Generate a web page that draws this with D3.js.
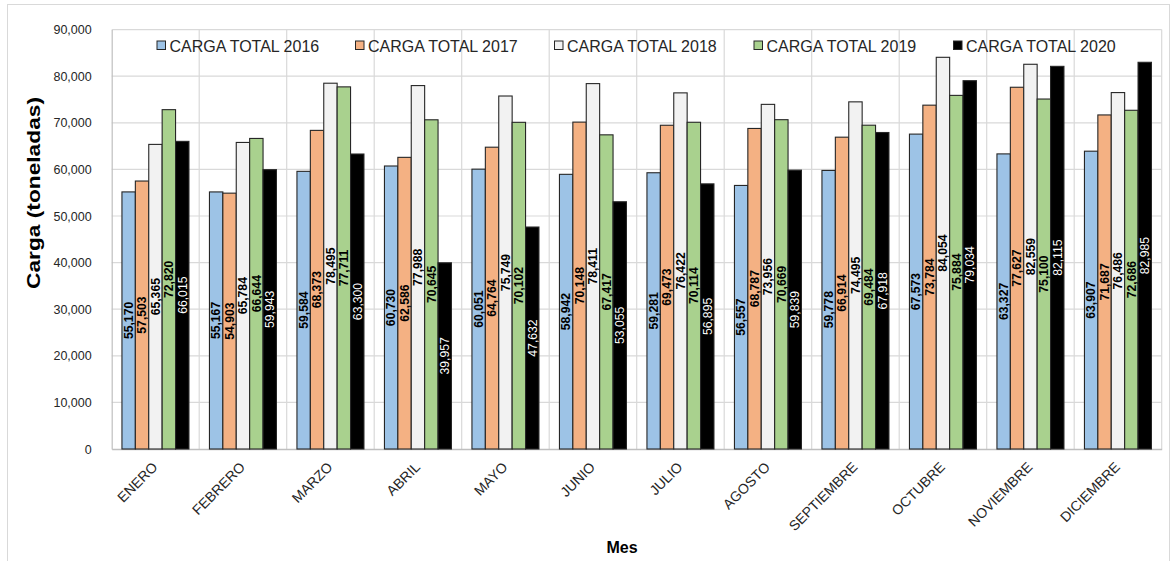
<!DOCTYPE html>
<html>
<head>
<meta charset="utf-8">
<script src="https://cdn.jsdelivr.net/npm/d3@7"></script>
<style>
  html, body { margin: 0; padding: 0; background: #fff; }
  svg { display: block; font-family: "Liberation Sans", Arial, sans-serif; }
</style>
</head>
<body>
<svg id="chart" width="1174" height="561"></svg>
<script>
// Monthly cargo totals (tonnes) by year
const months = ["ENERO", "FEBRERO", "MARZO", "ABRIL", "MAYO", "JUNIO", "JULIO",
                "AGOSTO", "SEPTIEMBRE", "OCTUBRE", "NOVIEMBRE", "DICIEMBRE"];
const seriesNames = ["CARGA TOTAL 2016", "CARGA TOTAL 2017", "CARGA TOTAL 2018",
                     "CARGA TOTAL 2019", "CARGA TOTAL 2020"];
const carga2016 = [55170, 55167, 59584, 60730, 60051, 58942, 59281, 56557, 59778, 67573, 63327, 63907];
const carga2017 = [57503, 54903, 68373, 62586, 64764, 70148, 69473, 68787, 66914, 73784, 77627, 71687];
const carga2018 = [65365, 65784, 78495, 77988, 75749, 78411, 76422, 73956, 74495, 84054, 82559, 76486];
const carga2019 = [72820, 66644, 77711, 70645, 70102, 67417, 70114, 70669, 69484, 75884, 75100, 72686];
const carga2020 = [66015, 59943, 63300, 39957, 47632, 53055, 56895, 59839, 67918, 79034, 82115, 82985];
const yTicks = [0, 10000, 20000, 30000, 40000, 50000, 60000, 70000, 80000, 90000];

const seriesValues = [carga2016, carga2017, carga2018, carga2019, carga2020];
const fills = ["#9dc3e6", "#f4b183", "#f2f2f2", "#a9d18e", "#000000"];
const labelColors = ["#000", "#000", "#000", "#000", "#fff"];
const labelWeights = ["bold", "bold", "bold", "bold", "normal"];

const svg = d3.select("#chart");
const plot = { left: 111.7, right: 1161.7, top: 29.6, bottom: 449 };

// outer chart border
svg.append("rect")
  .attr("x", 7.5).attr("y", 4.5).attr("width", 1162).attr("height", 570)
  .attr("fill", "none").attr("stroke", "#d9d9d9").attr("stroke-width", 1);

const x = d3.scaleBand().domain(months).range([plot.left, plot.right]).padding(0);
const xs = d3.scaleBand().domain(d3.range(seriesNames.length))
  .range([0, x.bandwidth()]).paddingInner(0).paddingOuter(0.765);
const y = d3.scaleLinear().domain([0, 90000]).range([plot.bottom, plot.top]);
const fmt = d3.format(",");

// horizontal gridlines
const grid = svg.append("g");
grid.selectAll("line.h").data(yTicks.filter(d => d > 0)).join("line")
  .attr("x1", plot.left).attr("x2", plot.right)
  .attr("y1", d => y(d)).attr("y2", d => y(d))
  .attr("stroke", "#d9d9d9").attr("stroke-width", 1.2);
// vertical gridlines at category boundaries
grid.selectAll("line.v").data(months.slice(1).concat([null])).join("line")
  .attr("x1", d => d === null ? plot.right : x(d))
  .attr("x2", d => d === null ? plot.right : x(d))
  .attr("y1", plot.top).attr("y2", plot.bottom)
  .attr("stroke", "#d9d9d9").attr("stroke-width", 1.2);

// y axis
const yAxis = svg.append("g")
  .attr("transform", `translate(${plot.left},0)`)
  .call(d3.axisLeft(y).tickValues(yTicks).tickFormat(fmt).tickSize(0).tickPadding(20));
yAxis.select(".domain").attr("stroke", "#bfbfbf").attr("stroke-width", 1.2);
yAxis.selectAll("text").attr("font-size", 12.5).attr("fill", "#262626")
  .attr("font-family", "Liberation Sans, Arial, sans-serif");

// x axis, month names slanted at 45 degrees
const xAxis = svg.append("g")
  .attr("transform", `translate(0,${plot.bottom})`)
  .call(d3.axisBottom(x).tickSize(0).tickPadding(0));
xAxis.select(".domain").attr("stroke", "#bfbfbf").attr("stroke-width", 1.4);
xAxis.selectAll("text")
  .attr("font-size", 14).attr("fill", "#262626")
  .attr("font-family", "Liberation Sans, Arial, sans-serif")
  .attr("text-anchor", "end")
  .attr("dy", null).attr("y", null)
  .attr("transform", "translate(3,19) rotate(-45)");

// bars
const groups = svg.append("g").selectAll("g").data(months).join("g")
  .attr("transform", d => `translate(${x(d)},0)`);

seriesValues.forEach((vals, si) => {
  groups.append("rect")
    .attr("x", xs(si))
    .attr("width", xs.bandwidth())
    .attr("y", (d, i) => y(vals[i]))
    .attr("height", (d, i) => y(0) - y(vals[i]))
    .attr("fill", fills[si])
    .attr("stroke", "#262626").attr("stroke-width", 1.1);
});

// value labels, rotated, centred inside each bar
seriesValues.forEach((vals, si) => {
  groups.append("text")
    .attr("transform", (d, i) => {
      const cx = xs(si) + xs.bandwidth() / 2;
      const cy = (y(vals[i]) + y(0)) / 2;
      return `translate(${cx},${cy}) rotate(-90)`;
    })
    .attr("text-anchor", "middle")
    .attr("dy", "0.35em")
    .attr("font-size", 12.2)
    .attr("font-weight", labelWeights[si])
    .attr("fill", labelColors[si])
    .text((d, i) => fmt(vals[i]));
});

// legend
const legendX = [157, 355.5, 554.5, 754, 953.5];
const legend = svg.append("g");
seriesNames.forEach((name, si) => {
  legend.append("rect")
    .attr("x", legendX[si]).attr("y", 41)
    .attr("width", 8.5).attr("height", 8.5)
    .attr("fill", fills[si]).attr("stroke", "#262626").attr("stroke-width", 1);
  legend.append("text")
    .attr("x", legendX[si] + 12.5).attr("y", 51.5)
    .attr("font-size", 16).attr("fill", "#262626")
    .text(name);
});

// axis titles
svg.append("text")
  .attr("transform", "translate(40,193) rotate(-90)")
  .attr("text-anchor", "middle")
  .attr("font-size", 18).attr("font-weight", "bold").attr("fill", "#000")
  .attr("textLength", 192).attr("lengthAdjust", "spacingAndGlyphs")
  .text("Carga (toneladas)");

svg.append("text")
  .attr("x", 622).attr("y", 553)
  .attr("text-anchor", "middle")
  .attr("font-size", 16).attr("font-weight", "bold").attr("fill", "#000")
  .text("Mes");
</script>
</body>
</html>
